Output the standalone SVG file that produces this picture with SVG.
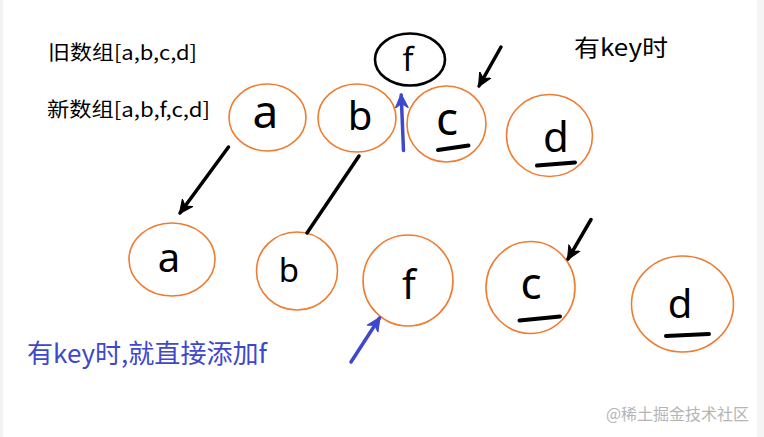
<svg xmlns="http://www.w3.org/2000/svg" width="764" height="437" viewBox="0 0 764 437">
<defs>
<style>
.node{fill:none;stroke:#ED7D31;stroke-width:1.6}
.blk{fill:none;stroke:#000;stroke-width:2.6}
.lt{font-family:"Noto Sans","Open Sans",sans-serif;fill:#000;text-anchor:middle}
.cap{font-family:"Noto Sans CJK SC","Noto Sans",sans-serif;fill:#000}
.ul{stroke:#000;stroke-width:4;stroke-linecap:round}
.ab{stroke:#000;stroke-width:3.5;fill:none;stroke-linecap:round}
.au{stroke:#3F48CC;stroke-width:3.5;fill:none;stroke-linecap:round}
</style>
<marker id="mb" viewBox="0 0 14 14" refX="12" refY="7" markerWidth="15" markerHeight="15" markerUnits="userSpaceOnUse" orient="auto">
<path d="M0,1 L13,7 L0,13 L4,7 Z" fill="#000" stroke="#000" stroke-width="1" stroke-linejoin="round"/>
</marker>
<marker id="mu" viewBox="0 0 14 14" refX="12" refY="7" markerWidth="15" markerHeight="15" markerUnits="userSpaceOnUse" orient="auto">
<path d="M0,1 L13,7 L0,13 L4,7 Z" fill="#3F48CC" stroke="#3F48CC" stroke-width="1" stroke-linejoin="round"/>
</marker>
</defs>
<rect width="764" height="437" fill="#fff"/>
<rect x="0" y="0" width="3" height="437" fill="#f2f2f2"/>
<rect x="757" y="0" width="7" height="437" fill="#f5f5f5"/>

<g id="labels">
<text class="cap" x="48" y="60" font-size="20" textLength="149" lengthAdjust="spacingAndGlyphs">旧数组[a,b,c,d]</text>
<text class="cap" x="47" y="117" font-size="20" textLength="163" lengthAdjust="spacingAndGlyphs">新数组[a,b,f,c,d]</text>
<text class="cap" x="574" y="56" font-size="23" textLength="94" lengthAdjust="spacingAndGlyphs">有key时</text>
<text class="cap" x="27" y="363" font-size="26" style="fill:#3F48CC" textLength="240" lengthAdjust="spacingAndGlyphs">有key时,就直接添加f</text>
<text class="cap" x="606" y="420" font-size="16" style="fill:#b5b5b5" textLength="143" lengthAdjust="spacingAndGlyphs">@稀土掘金技术社区</text>
</g>

<g id="old-f">
<ellipse class="blk" cx="410" cy="59.5" rx="35" ry="26"/>
<text class="lt" x="408" y="71" font-size="32">f</text>
</g>
<g id="new-a">
<ellipse class="node" cx="267.5" cy="117.5" rx="38.5" ry="33.5"/>
<text class="lt" x="265.5" y="128" font-size="46">a</text>
</g>
<g id="new-b">
<ellipse class="node" cx="357" cy="118" rx="39" ry="34"/>
<text class="lt" x="360" y="130" font-size="40">b</text>
</g>
<g id="new-c">
<ellipse class="node" cx="446.5" cy="124" rx="39.5" ry="38"/>
<text class="lt" x="447" y="135" font-size="46">c</text>
<line class="ul" x1="438" y1="150" x2="468.5" y2="145.5"/>
</g>
<g id="new-d">
<ellipse class="node" cx="549.5" cy="135.5" rx="43" ry="41"/>
<text class="lt" x="556" y="152" font-size="42">d</text>
<line class="ul" x1="537" y1="165.5" x2="575" y2="162.5"/>
</g>

<g id="old-a">
<ellipse class="node" cx="172" cy="259.5" rx="43" ry="36.5"/>
<text class="lt" x="169" y="272" font-size="40">a</text>
</g>
<g id="old-b">
<ellipse class="node" cx="297" cy="271" rx="40.5" ry="39"/>
<text class="lt" x="289" y="282" font-size="33">b</text>
</g>
<g id="old-f2">
<ellipse class="node" cx="408" cy="280.5" rx="45" ry="45.5"/>
<text class="lt" x="409" y="299" font-size="40">f</text>
</g>
<g id="old-c">
<ellipse class="node" cx="530.5" cy="287.5" rx="44.5" ry="46"/>
<text class="lt" x="531" y="299" font-size="44">c</text>
<line class="ul" x1="519.5" y1="320.5" x2="560" y2="316.5"/>
</g>
<g id="old-d">
<ellipse class="node" cx="682.5" cy="304" rx="51" ry="48"/>
<text class="lt" x="680" y="318" font-size="40">d</text>
<line class="ul" x1="666" y1="336" x2="709" y2="334"/>
</g>

<g id="connectors">
<line class="ab" x1="501" y1="47" x2="479" y2="86" marker-end="url(#mb)"/>
<line class="au" x1="403.5" y1="150.5" x2="401.2" y2="95" marker-end="url(#mu)"/>
<line class="ab" x1="228.5" y1="147" x2="180" y2="213" marker-end="url(#mb)"/>
<line class="ab" x1="359" y1="156" x2="307" y2="233"/>
<line class="au" x1="351" y1="362" x2="379.5" y2="318" marker-end="url(#mu)"/>
<line class="ab" x1="591" y1="219.5" x2="568" y2="259" marker-end="url(#mb)"/>
</g>
</svg>
